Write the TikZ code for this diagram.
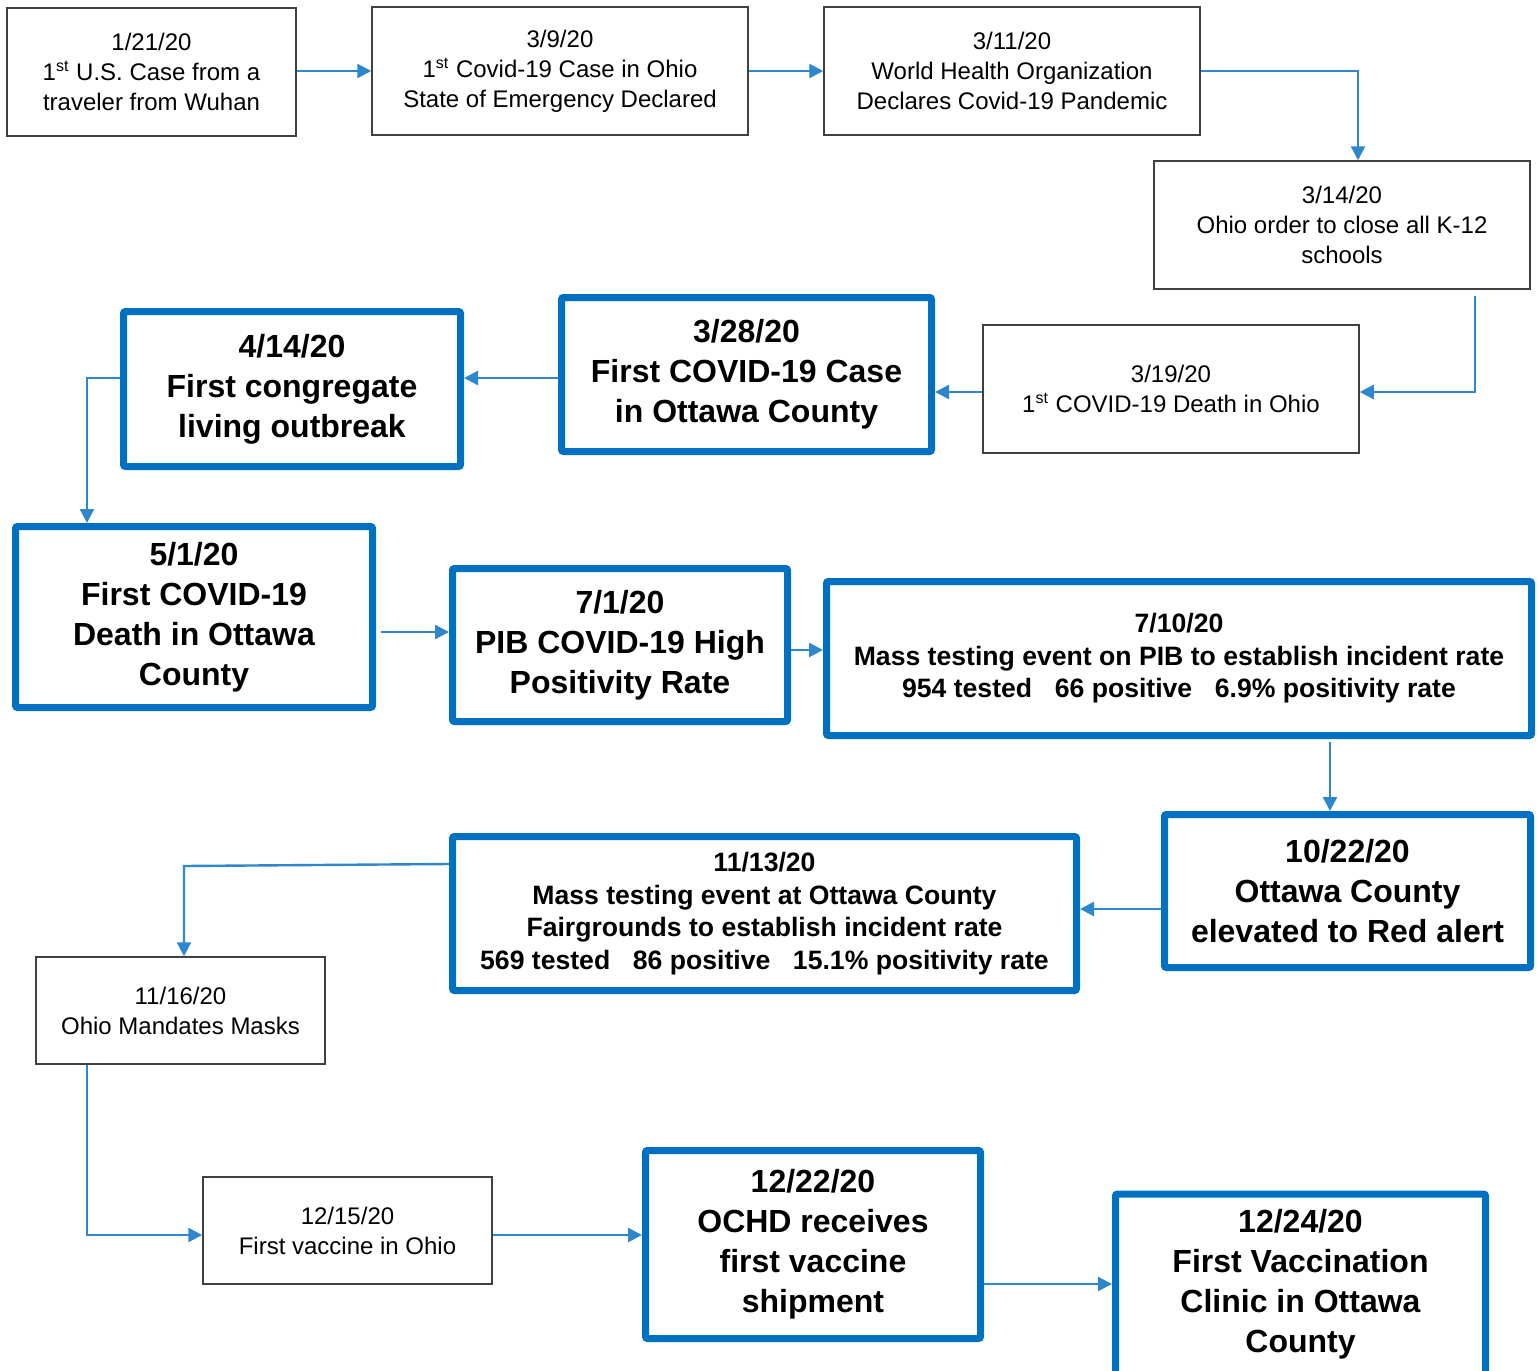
\documentclass[tikz,border=0pt]{standalone}
\usepackage{fontspec}
\setmainfont{Liberation Sans}
\usetikzlibrary{arrows.meta}
\definecolor{thickblue}{HTML}{0070C0}
\definecolor{arrowblue}{HTML}{2E86CC}
\begin{document}
\begin{tikzpicture}[x=0.5pt,y=-0.5pt,
  thinbox/.style={draw=black!75, line width=0.75pt, align=center, inner sep=0pt,
    font=\fontsize{12pt}{15pt}\selectfont},
  thickbox/.style={draw=thickblue, line width=3.5pt, rounded corners=1pt, align=center, inner sep=0pt,
    font=\fontsize{16pt}{20pt}\selectfont\bfseries},
  masstxt/.style={font=\fontsize{13.3pt}{16.3pt}\selectfont\bfseries},
  conn/.style={draw=arrowblue, line width=1.2pt, -{Triangle[length=7pt,width=7pt]}},
  plainconn/.style={draw=arrowblue, line width=1.2pt}]
\useasboundingbox (0,0) rectangle (1538,1371);
\clip (0,0) rectangle (1538,1371);

% thin boxes
\node[thinbox, minimum width=144.5pt, minimum height=64pt] (A) at (151.5,72)
  {1/21/20\\1\textsuperscript{st} U.S. Case from a\\traveler from Wuhan};
\node[thinbox, minimum width=188pt, minimum height=64pt] (B) at (560,71)
  {3/9/20\\1\textsuperscript{st} Covid-19 Case in Ohio\\State of Emergency Declared};
\node[thinbox, minimum width=188pt, minimum height=64pt] (C) at (1012,71)
  {3/11/20\\World Health Organization\\Declares Covid-19 Pandemic};
\node[thinbox, minimum width=188pt, minimum height=64pt] (D) at (1342,225)
  {3/14/20\\Ohio order to close all K-12\\schools};
\node[thinbox, minimum width=188pt, minimum height=64pt] (E) at (1171,389)
  {3/19/20\\1\textsuperscript{st} COVID-19 Death in Ohio};
\node[thinbox, minimum width=144.5pt, minimum height=53.5pt] (M) at (180.5,1010.5)
  {11/16/20\\Ohio Mandates Masks};
\node[thinbox, minimum width=144.5pt, minimum height=53.5pt] (N) at (347.5,1230.5)
  {12/15/20\\First vaccine in Ohio};

% thick boxes
\node[thickbox, minimum width=185pt, minimum height=77pt] (F) at (746.5,374.5)
  {3/28/20\\First COVID-19 Case\\in Ottawa County};
\node[thickbox, minimum width=168.5pt, minimum height=77.5pt] (G) at (292,389)
  {4/14/20\\First congregate\\living outbreak};
\node[thickbox, minimum width=178.5pt, minimum height=90.5pt] (H) at (194,617)
  {5/1/20\\First COVID-19\\Death in Ottawa\\County};
\node[thickbox, minimum width=167.5pt, minimum height=76.5pt] (I) at (620,645)
  {7/1/20\\PIB COVID-19 High\\Positivity Rate};
\node[thickbox, masstxt, minimum width=352.5pt, minimum height=77pt] (J) at (1179,658.5)
  {7/10/20\\Mass testing event on PIB to establish incident rate\\954 tested\hspace{0.85em}66 positive\hspace{0.85em}6.9\% positivity rate};
\node[thickbox, minimum width=183pt, minimum height=76.5pt] (K) at (1347.5,891)
  {10/22/20\\Ottawa County\\elevated to Red alert};
\node[thickbox, masstxt, minimum width=312pt, minimum height=77pt] (L) at (764.5,913.5)
  {11/13/20\\Mass testing event at Ottawa County\\Fairgrounds to establish incident rate\\569 tested\hspace{0.85em}86 positive\hspace{0.85em}15.1\% positivity rate};
\node[thickbox, minimum width=167.5pt, minimum height=94pt] (O) at (813,1244.5)
  {12/22/20\\OCHD receives\\first vaccine\\shipment};
\node[thickbox, minimum width=185pt, minimum height=113pt] (P) at (1300.5,1307) {};
\node[align=center, inner sep=0pt, font=\fontsize{16pt}{20pt}\selectfont\bfseries] (Ptext) at (1300.5,1284)
  {12/24/20\\First Vaccination\\Clinic in Ottawa\\County};

% connectors
\draw[conn] (A.east |- 0,71) -- (B.west |- 0,71);
\draw[conn] (B.east |- 0,71) -- (C.west |- 0,71);
\draw[conn] (C.east |- 0,71) -| (D.north -| 1358,0);
\coordinate (dstart) at (1475,296);
\draw[conn] (dstart) |- (E.east |- 0,392);
\draw[conn] (E.west |- 0,392) -- (F.east |- 0,392);
\draw[conn] (F.west |- 0,378) -- (G.east |- 0,378);
\draw[conn] (G.west |- 0,378) -| (H.north -| 87,0);
\coordinate (hstart) at (381,632);
\draw[conn] (hstart) -- (I.west |- 0,632);
\draw[conn] (I.east |- 0,650) -- (J.west |- 0,650);
\coordinate (jstart) at (1330,742);
\draw[conn] (jstart) -- (K.north -| 1330,0);
\draw[conn] (K.west |- 0,909) -- (L.east |- 0,909);
\coordinate (lbend) at (184,866);
\draw[conn] (L.west |- 0,864) -- (lbend) -- (M.north -| 184,0);
\draw[conn] (M.south -| 87,0) |- (N.west |- 0,1235);
\draw[conn] (N.east |- 0,1235) -- (O.west |- 0,1235);
\draw[conn] (O.east |- 0,1284) -- (P.west |- 0,1284);
\end{tikzpicture}
\end{document}
